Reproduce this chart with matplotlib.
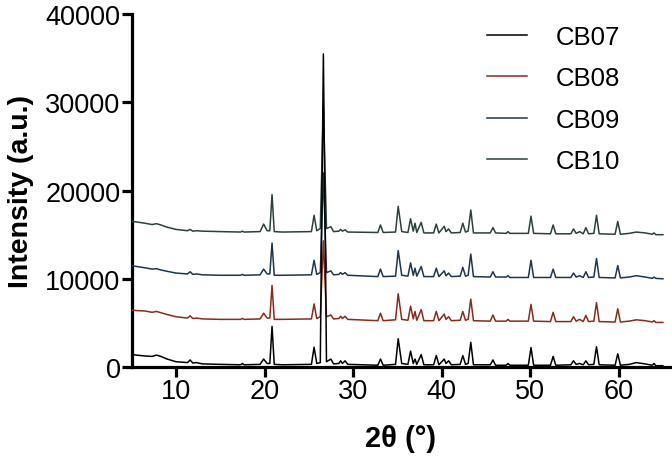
import matplotlib
matplotlib.use("Agg")
import matplotlib.pyplot as plt

plt.rcParams['font.family'] = ['Liberation Sans', 'DejaVu Sans']

# 2theta vertices (peak bases and tops)
two_theta = [5.0, 5.5, 6.5, 7.3, 7.8, 8.3, 9.0, 10.0, 11.3, 11.6,
             11.9, 12.3, 13.0, 15.0, 17.3, 17.5, 17.7, 19.5, 19.9, 20.3,
             20.6, 20.85, 21.1, 22.0, 25.3, 25.6, 25.9, 26.3, 26.65, 27.0,
             27.5, 27.8, 28.4, 28.6, 28.8, 29.1, 29.4, 32.8, 33.1, 33.4,
             34.8, 35.1, 35.5, 36.2, 36.5, 36.8, 37.0, 37.2, 37.7, 38.0,
             39.1, 39.4, 39.7, 40.3, 40.5, 40.8, 41.1, 42.1, 42.4, 42.7,
             43.0, 43.3, 43.6, 45.5, 45.8, 46.1, 47.3, 47.5, 47.7, 49.8,
             50.1, 50.4, 52.3, 52.6, 52.9, 54.6, 54.9, 55.2, 55.6, 56.0,
             56.3, 56.6, 57.2, 57.5, 57.8, 59.6, 59.9, 60.2, 61.2, 62.0,
             63.0, 63.8, 64.0, 64.2, 65.0]

cb07 = [1450, 1350, 1250, 1200, 1350, 1200, 900, 600, 500, 800,
        450, 500, 350, 300, 250, 400, 250, 300, 900, 400,
        400, 4600, 300, 250, 300, 2250, 400, 500, 35500, 600,
        900, 350, 400, 700, 400, 700, 300, 200, 900, 200,
        300, 3200, 400, 300, 1800, 400, 900, 300, 1400, 250,
        250, 1300, 250, 900, 400, 700, 250, 300, 1300, 300,
        400, 2800, 250, 250, 800, 200, 200, 400, 200, 200,
        2200, 200, 200, 1200, 200, 250, 700, 300, 400, 250,
        700, 250, 300, 2300, 250, 200, 1500, 200, 300, 500,
        350, 200, 400, 150, 150]

cb08 = [6450, 6400, 6350, 6200, 6300, 6150, 5950, 5700, 5550, 5800,
        5500, 5550, 5450, 5400, 5400, 5500, 5400, 5450, 6100, 5550,
        5550, 9250, 5400, 5400, 5450, 7150, 5500, 5700, 14300, 5700,
        5900, 5450, 5500, 5750, 5500, 5750, 5400, 5250, 6100, 5250,
        5350, 8300, 5400, 5300, 6900, 5450, 6300, 5300, 6500, 5250,
        5250, 6300, 5250, 6000, 5400, 5700, 5250, 5300, 6300, 5300,
        5400, 7700, 5250, 5200, 5900, 5200, 5200, 5400, 5200, 5200,
        7100, 5200, 5150, 6200, 5150, 5150, 5700, 5200, 5400, 5150,
        5850, 5150, 5200, 7300, 5150, 5100, 6600, 5100, 5200, 5350,
        5250, 5100, 5250, 5050, 5050]

cb09 = [11500, 11400, 11250, 11100, 11150, 11000, 10850, 10650, 10550, 10800,
        10500, 10550, 10450, 10400, 10400, 10500, 10400, 10450, 11100, 10550,
        10550, 14050, 10400, 10400, 10450, 12100, 10500, 10700, 22000, 10700,
        10900, 10450, 10500, 10700, 10500, 10700, 10400, 10250, 11100, 10250,
        10300, 13200, 10400, 10300, 11800, 10400, 11200, 10300, 11400, 10250,
        10250, 11200, 10250, 10900, 10350, 10650, 10250, 10300, 11300, 10300,
        10400, 12800, 10250, 10200, 10800, 10200, 10200, 10350, 10150, 10150,
        12100, 10150, 10150, 11100, 10150, 10150, 10650, 10200, 10350, 10150,
        10800, 10150, 10200, 12300, 10150, 10100, 11500, 10100, 10200, 10350,
        10200, 10050, 10200, 10050, 10000]

cb10 = [16500, 16450, 16300, 16150, 16250, 16100, 15850, 15600, 15450, 15600,
        15400, 15450, 15400, 15350, 15300, 15400, 15300, 15350, 16200, 15450,
        15450, 19550, 15350, 15300, 15350, 17200, 15450, 15700, 29500, 15700,
        15900, 15350, 15400, 15600, 15400, 15550, 15300, 15250, 16100, 15250,
        15300, 18200, 15350, 15250, 16800, 15400, 16300, 15250, 16400, 15200,
        15200, 16200, 15200, 15950, 15350, 15650, 15200, 15250, 16300, 15300,
        15400, 17800, 15200, 15200, 15800, 15200, 15150, 15350, 15150, 15150,
        17100, 15150, 15100, 16100, 15100, 15100, 15650, 15150, 15350, 15100,
        15800, 15100, 15150, 17200, 15100, 15050, 16500, 15050, 15150, 15300,
        15200, 15050, 15200, 15000, 15000]

labels = ['CB07', 'CB08', 'CB09', 'CB10']
colors = ['#000000', '#8a2b1c', '#1f3550', '#2c4236']
series = [cb07, cb08, cb09, cb10]

fig = plt.figure(figsize=(6.72, 4.6), dpi=100)
ax = fig.add_axes([0.196, 0.2, 0.801, 0.767])

for i, (y, lab, c) in enumerate(zip(series, labels, colors)):
    ax.plot(two_theta, y, color=c, lw=1.1, label=lab, zorder=10 - i)

ax.set_xlim(5, 65.8)
ax.set_ylim(0, 40000)
ax.set_xticks([10, 20, 30, 40, 50, 60])
ax.set_yticks([0, 10000, 20000, 30000, 40000])

for side in ['top', 'right']:
    ax.spines[side].set_visible(False)
for side in ['left', 'bottom']:
    ax.spines[side].set_linewidth(2.3)
ax.tick_params(width=2.3, length=7, labelsize=19.5, pad=1)

ax.set_xlabel('2θ (°)', fontsize=21, fontweight='bold', labelpad=14)
ax.set_ylabel('Intensity (a.u.)', fontsize=20.5, fontweight='bold', labelpad=8)

ax.legend(loc='upper right', bbox_to_anchor=(0.95, 1.035), frameon=False,
          fontsize=18.5, handlelength=1.55, handletextpad=1.1, labelspacing=0.68)

fig.savefig('out.png', dpi=100)
